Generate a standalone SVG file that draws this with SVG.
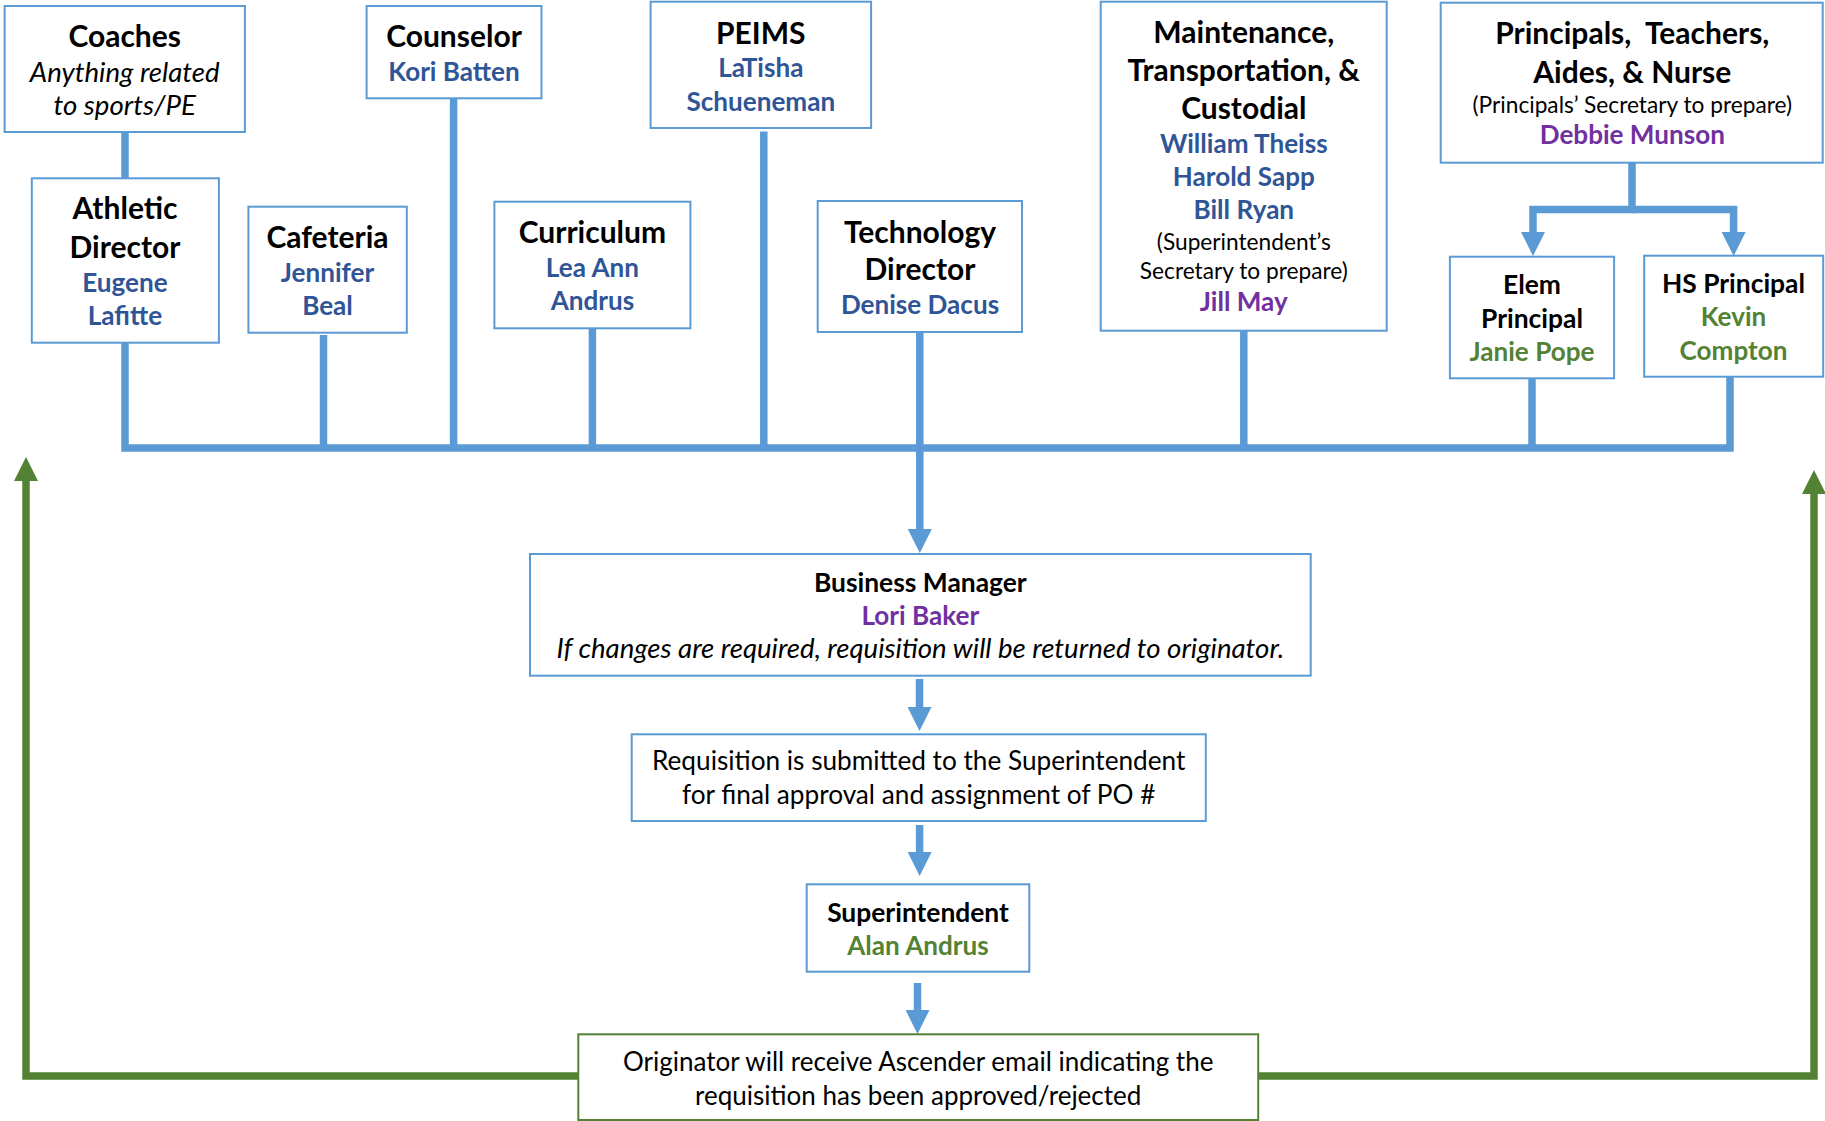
<svg xmlns="http://www.w3.org/2000/svg" width="1825" height="1121" viewBox="0 0 1825 1121">
<style>
.box{fill:#fff;stroke:#5B9BD5;stroke-width:2}
.gbox{fill:#fff;stroke:#548235;stroke-width:2}
text{font-family:Lato,'Liberation Sans',sans-serif;text-anchor:middle;fill:#000}
.t{font-weight:700;font-size:30px}
.t2{font-weight:700;font-size:26.4px}
.n{font-weight:700;font-size:26.1px;fill:#2F5597}
.pu{font-weight:700;font-size:26.1px;fill:#7030A0}
.gr{font-weight:700;font-size:26.1px;fill:#548235}
.s{font-size:22.7px}
.it{font-style:italic;font-size:27.6px}
.r{font-size:26.2px}
.o{font-size:26px}
.c{stroke:#5B9BD5;stroke-width:7.5;fill:none}
.gl{stroke:#548235;stroke-width:7.5;fill:none}
</style>
<defs>
<marker id="ab" markerUnits="userSpaceOnUse" viewBox="0 0 24 24" markerWidth="24" markerHeight="24" refX="0" refY="12" orient="auto"><path d="M0,0 L24,12 L0,24 Z" fill="#5B9BD5"/></marker>
<marker id="ag" markerUnits="userSpaceOnUse" viewBox="0 0 24 24" markerWidth="24" markerHeight="24" refX="0" refY="12" orient="auto"><path d="M0,0 L24,12 L0,24 Z" fill="#548235"/></marker>
</defs>
<g id="connectors">
<line class="c" x1="125" y1="132" x2="125" y2="178"/>
<path class="c" d="M125,342.7 V448 H1730 V376.7"/>
<line class="c" x1="323.5" y1="335" x2="323.5" y2="448"/>
<line class="c" x1="453.6" y1="98" x2="453.6" y2="448"/>
<line class="c" x1="592.4" y1="328" x2="592.4" y2="448"/>
<line class="c" x1="763.8" y1="131.5" x2="763.8" y2="448"/>
<line class="c" x1="1243.8" y1="331" x2="1243.8" y2="448"/>
<line class="c" x1="1532" y1="378" x2="1532" y2="448"/>
<path class="c" d="M919.8,332 V529" marker-end="url(#ab)"/>
<path class="c" d="M1632,163 V209.5 H1533 V232" marker-end="url(#ab)"/>
<path class="c" d="M1632,209.5 H1733.6 V232" marker-end="url(#ab)"/>
<path class="c" d="M919.5,679 V707" marker-end="url(#ab)"/>
<path class="c" d="M919.6,825 V852" marker-end="url(#ab)"/>
<path class="c" d="M917.5,983 V1010" marker-end="url(#ab)"/>
<path class="gl" d="M578,1076 H26 V481" marker-end="url(#ag)"/>
<path class="gl" d="M1258,1076 H1814 V494" marker-end="url(#ag)"/>
</g>
<g id="coaches">
<rect class="box" x="4.6" y="6" width="240.3" height="126"/>
<text class="t" x="124.7" y="47">Coaches</text>
<text class="it" x="124.7" y="81.5">Anything related</text>
<text class="it" x="124.7" y="114.5">to sports/PE</text>
</g>
<g id="counselor">
<rect class="box" x="366.6" y="6" width="174.9" height="92.3"/>
<text class="t" x="454" y="47">Counselor</text>
<text class="n" x="454" y="81">Kori Batten</text>
</g>
<g id="peims">
<rect class="box" x="650.6" y="1.7" width="220.5" height="126.3"/>
<text class="t" x="760.8" y="43.7">PEIMS</text>
<text class="n" x="760.8" y="77">LaTisha</text>
<text class="n" x="760.8" y="111">Schueneman</text>
</g>
<g id="maintenance">
<rect class="box" x="1100.7" y="1.7" width="286" height="329"/>
<text class="t" x="1243.8" y="42.7">Maintenance,</text>
<text class="t" x="1243.8" y="81.3">Transportation, &amp;</text>
<text class="t" x="1243.8" y="119.3">Custodial</text>
<text class="n" x="1243.8" y="152.7">William Theiss</text>
<text class="n" x="1243.8" y="186">Harold Sapp</text>
<text class="n" x="1243.8" y="219.3">Bill Ryan</text>
<text class="s" x="1243.8" y="250.3">(Superintendent’s</text>
<text class="s" x="1243.8" y="279.3">Secretary to prepare)</text>
<text class="pu" x="1243.8" y="311">Jill May</text>
</g>
<g id="principals">
<rect class="box" x="1440.7" y="2.7" width="382" height="160"/>
<text class="t" x="1632.3" y="43.7">Principals,&#160; Teachers,</text>
<text class="t" x="1632.3" y="83">Aides, &amp; Nurse</text>
<text class="s" x="1632.3" y="113">(Principals’ Secretary to prepare)</text>
<text class="pu" x="1632.3" y="144.3">Debbie Munson</text>
</g>
<g id="athletic">
<rect class="box" x="31.8" y="178.3" width="187.1" height="164.4"/>
<text class="t" x="125" y="219.3">Athletic</text>
<text class="t" x="125" y="258">Director</text>
<text class="n" x="125" y="291.7">Eugene</text>
<text class="n" x="125" y="325">Lafitte</text>
</g>
<g id="cafeteria">
<rect class="box" x="248.4" y="206.7" width="158.4" height="126"/>
<text class="t" x="327.5" y="248">Cafeteria</text>
<text class="n" x="327.5" y="281.7">Jennifer</text>
<text class="n" x="327.5" y="315">Beal</text>
</g>
<g id="curriculum">
<rect class="box" x="494.4" y="201.7" width="196" height="126.6"/>
<text class="t" x="592.4" y="242.7">Curriculum</text>
<text class="n" x="592.4" y="277">Lea Ann</text>
<text class="n" x="592.4" y="310.3">Andrus</text>
</g>
<g id="technology">
<rect class="box" x="817.7" y="201" width="204.3" height="131"/>
<text class="t" x="920" y="242.7">Technology</text>
<text class="t" x="920" y="280.3">Director</text>
<text class="n" x="920" y="314.3">Denise Dacus</text>
</g>
<g id="elem">
<rect class="box" x="1449.9" y="256.7" width="164.2" height="121.6"/>
<text class="t2" x="1532" y="294.3">Elem</text>
<text class="t2" x="1532" y="328.3">Principal</text>
<text class="gr" x="1532" y="361">Janie Pope</text>
</g>
<g id="hs">
<rect class="box" x="1644.2" y="255.7" width="179" height="121"/>
<text class="t2" x="1733.5" y="292.7">HS Principal</text>
<text class="gr" x="1733.5" y="326">Kevin</text>
<text class="gr" x="1733.5" y="360.3">Compton</text>
</g>
<g id="business-manager">
<rect class="box" x="530" y="554" width="780.7" height="121.7"/>
<text class="t2" x="920.3" y="591.7">Business Manager</text>
<text class="pu" x="920.3" y="625">Lori Baker</text>
<text class="it" x="920.3" y="658">If changes are required, requisition will be returned to originator.</text>
</g>
<g id="requisition">
<rect class="box" x="631.7" y="734.3" width="574.1" height="86.7"/>
<text class="r" x="918.7" y="770">Requisition is submitted to the Superintendent</text>
<text class="r" x="918.7" y="803.5">for final approval and assignment of PO #</text>
</g>
<g id="superintendent">
<rect class="box" x="806.7" y="884.3" width="222.6" height="87.4"/>
<text class="t2" x="918" y="922.2">Superintendent</text>
<text class="gr" x="918" y="954.5">Alan Andrus</text>
</g>
<g id="originator">
<rect class="gbox" x="578.3" y="1034.3" width="679.9" height="85.7"/>
<text class="o" x="918.2" y="1071">Originator will receive Ascender email indicating the</text>
<text class="o" x="918.2" y="1104.5">requisition has been approved/rejected</text>
</g>
</svg>
